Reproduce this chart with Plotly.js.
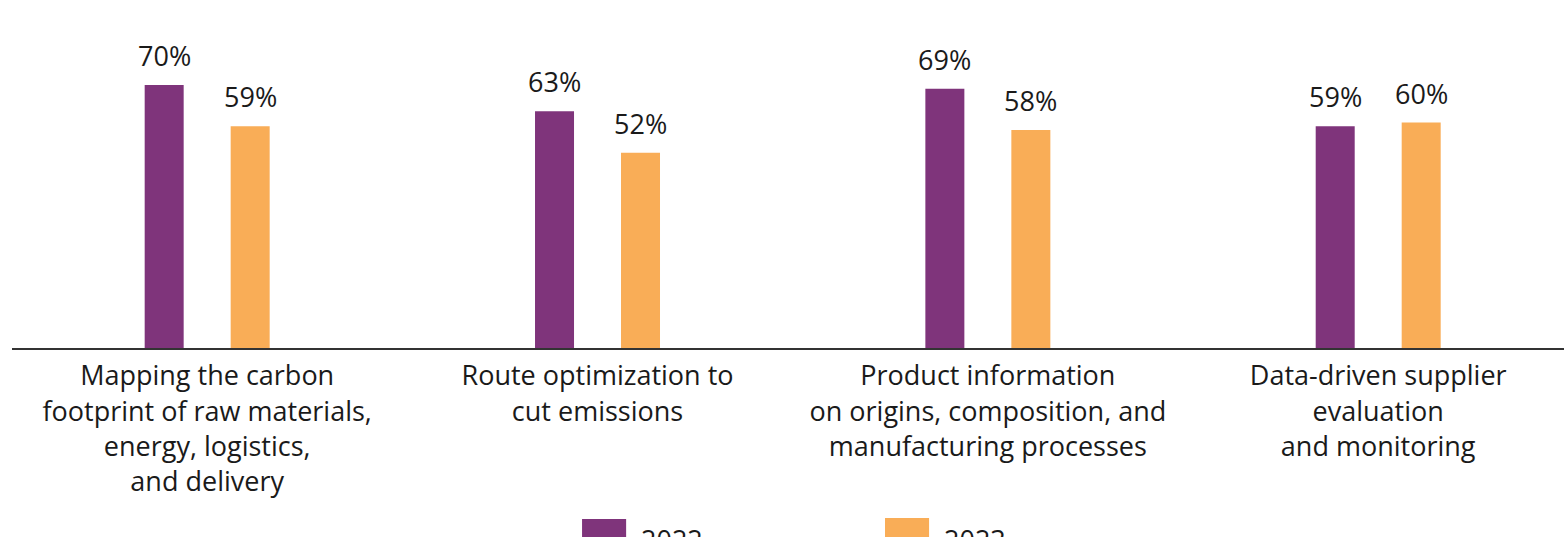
<!DOCTYPE html>
<html>
<head>
<meta charset="utf-8">
<script src="https://cdn.plot.ly/plotly-3.0.1.min.js"></script>
<style>
html,body{margin:0;padding:0;background:#fff;overflow:hidden;}
#chart{width:1564px;height:537px;}
</style>
</head>
<body>
<div id="chart"></div>
<script>
// ---- data ----
const categories = [
  "Mapping the carbon<br>footprint of raw materials,<br>energy, logistics,<br>and delivery",
  "Route optimization to<br>cut emissions",
  "Product information<br>on origins, composition, and<br>manufacturing processes",
  "Data-driven supplier<br>evaluation<br>and monitoring"
];
const seriesNames = ["2022", "2023"];
const values2022 = [70, 63, 69, 59];
const values2023 = [59, 52, 58, 60];
const seriesColors = ["#7f347b", "#f9ad57"];

const series = [values2022, values2023];
const fontFam = "'Open Sans', 'Noto Sans', sans-serif";
const textColor = "#1a1a1a";

const traces = series.map((vals, i) => ({
  type: "bar",
  x: categories,
  y: vals,
  name: seriesNames[i],
  marker: {color: seriesColors[i]},
  hoverinfo: "skip",
  showlegend: false
}));

// value labels above bars
const annotations = [];
series.forEach((vals, i) => {
  vals.forEach((v, j) => {
    annotations.push({
      x: categories[j], y: v, xref: "x", yref: "y",
      text: v + "%", showarrow: false,
      xanchor: "center", yanchor: "bottom",
      xshift: i === 0 ? -43 : 43, yshift: 9,
      font: {family: fontFam, size: 27, color: textColor}
    });
  });
});

// custom legend (swatches + labels) below the plot
const legendX = [0.3673, 0.5625];
const shapes = [];
seriesNames.forEach((n, i) => {
  shapes.push({
    type: "rect", xref: "paper", yref: "paper",
    x0: legendX[i], x1: legendX[i] + 0.0284,
    y0: -0.68, y1: i === 0 ? -0.5213 : -0.518,
    fillcolor: seriesColors[i], line: {width: 0}
  });
  annotations.push({
    x: legendX[i] + 0.0365, y: -0.522, xref: "paper", yref: "paper",
    text: n, showarrow: false, xanchor: "left", yanchor: "top",
    font: {family: fontFam, size: 27, color: textColor}
  });
});

const layout = {
  width: 1564, height: 537,
  margin: {l: 12, r: 0, t: 20, b: 189},
  paper_bgcolor: "#ffffff", plot_bgcolor: "#ffffff",
  barmode: "group",
  bargap: 0.5594,
  bargroupgap: 0.5465,
  showlegend: false,
  xaxis: {
    type: "category",
    range: [-0.5, 3.476],
    showline: true, linecolor: "#333333", linewidth: 2,
    showgrid: false, zeroline: false, ticks: "",
    ticklabelstandoff: 3,
    tickfont: {family: fontFam, size: 27, color: textColor},
    fixedrange: true
  },
  yaxis: {
    range: [0, 87.3],
    visible: false, showgrid: false, zeroline: false,
    fixedrange: true
  },
  annotations: annotations,
  shapes: shapes
};

Plotly.newPlot("chart", traces, layout, {displayModeBar: false, staticPlot: true});
</script>
</body>
</html>
